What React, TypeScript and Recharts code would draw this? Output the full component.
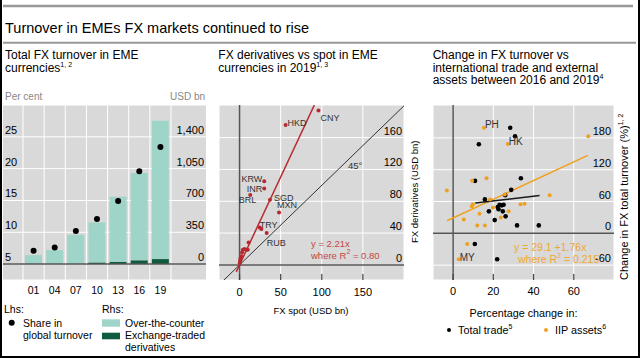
import React from 'react'
import {
  ComposedChart, Bar, Line, XAxis, YAxis, CartesianGrid, ReferenceLine,
  ScatterChart, Scatter,
} from 'recharts'

document.body.style.margin = '0'

const FONT = '"Liberation Sans", Arial, sans-serif'
const GREY_BG = '#d9d9d9'
const AXIS = '#555'

// panel 1: total FX turnover
const years = ['01', '04', '07', '10', '13', '16', '19']
const otc = [99, 154, 322, 441, 716, 959, 1522]
const etd = [0, 0, 0, 18, 25, 42, 55]
const share = [7.1, 7.6, 10.2, 12.1, 14.9, 19.6, 23.4]
const lhsTicks = [5, 10, 15, 20, 25]
const rhsTicks = [0, 350, 700, 1050, 1400]

// panel 2: derivatives vs spot
const ccyLabels = ['CNY', 'HKD', 'KRW', 'INR', 'BRL', 'SGD', 'MXN', 'TRY', '', 'RUB', '', '', '', '', '', '', '', '', '', '']
const ccySpot = [96, 56, 30, 30, 13, 37, 48, 24.5, 26.5, 33, 11, 6, 8, 10, 4, 3, 2, 1, 0.5, 0.3]
const ccyDeriv = [194, 176, 105, 96, 88, 82, 66, 47, 45, 40, 28, 20, 19, 19, 19, 15.5, 11, 8, 5, 2]
const spotTicks = [0, 50, 100, 150]
const derivTicks = [0, 40, 80, 120, 160]
const diagLine = [{ x: -25, y: -25 }, { x: 201, y: 201 }]
const redFit = [{ x: -4, y: -8.8 }, { x: 91, y: 201 }]

// panel 3: change in turnover vs trade / IIP assets
const tradeX = [28.4, 30.8, 12.8, 10.9, 33.7, 28.9, 25.9, 15.8, 17.8, 20.7, 22.2, 23.1, 24.2, 25.1, 22.6, 24.7, 26.1, 31.8, 10.8, 21.9, 42.6]
const tradeY = [199, 183, 168, 99, 104, 82, 72, 64, 41.5, 25, 49.6, 54, 52.8, 54, 45.3, 41.5, 32, 15, -20, -49, 15]
const iipLabels = ['PH', 'HK', '', '', '', '', '', '', '', '', '', '', '', '', '', '', '', '', '', 'MY', '', '']
const iipX = [15.3, 27.2, -3.1, 9.5, 16.6, 25.7, 18.4, 9.8, 9.3, 19.8, 13.1, 27.6, 23.7, 5.3, 12, 15.8, 33.5, 35.5, 7, 2.8, 67.2, 48]
const iipY = [199, 168.5, 81, 99, 104, 73, 64, 55, 51, 48.5, 37, 41.5, 30, 26, 15, 15, 55, 56, -20, -49, 183, 72]
const tradeTicks = [0, 20, 40, 60]
const turnoverTicks = [-60, 0, 60, 120, 180]
const orangeFit = [{ x: -3, y: 23.8 }, { x: 67, y: 147 }]
const blackFit = [{ x: 11, y: 57 }, { x: 43, y: 71.5 }]

const p1Data = years.map((year, i) => ({ year, otc: otc[i], etd: etd[i], share: share[i] }))
const ccyData = ccySpot.map((x, i) => ({ x, y: ccyDeriv[i], label: ccyLabels[i] }))
const tradeData = tradeX.map((x, i) => ({ x, y: tradeY[i] }))
const iipData = iipX.map((x, i) => ({ x, y: iipY[i], label: iipLabels[i] }))

// label placement next to a point: dx, dy, anchor
const labelPos: Record<string, [number, number, string]> = {
  CNY: [2, 10.5, 'start'], HKD: [2, 1.5, 'start'], KRW: [-2, 0.5, 'end'], INR: [-2, 3.5, 'end'],
  BRL: [6, 8.5, 'end'], SGD: [4, 1, 'start'], MXN: [-2, -4, 'start'], TRY: [0, 0, 'start'],
  RUB: [0, 12.5, 'start'], PH: [1, 0.5, 'start'], HK: [1, 1, 'start'], MY: [1, 1.5, 'start'],
}

const sideTick = (anchor: string, size = 11) => (p: any) => (
  <text x={p.x} y={p.y - 3} textAnchor={anchor} fontSize={size} fontFamily={FONT} fill="#000">
    {p.tickFormatter ? p.tickFormatter(p.payload.value) : p.payload.value}
  </text>
)

const bottomTick = (marks: boolean, dy: number, size = 11) => (p: any) => (
  <g>
    {marks && <line x1={p.x} x2={p.x} y1={p.y - 6} y2={p.y} stroke="#444" strokeWidth={1.2} />}
    <text x={p.x} y={p.y + dy} textAnchor="middle" fontSize={size} fontFamily={FONT} fill="#000">
      {p.payload.value}
    </text>
  </g>
)

const dotShape = (fill: string, r: number, size: number) => (p: any) => {
  const lab = p.payload && p.payload.label
  const pos = lab ? labelPos[lab] : null
  return (
    <g>
      <circle cx={p.cx} cy={p.cy} r={r} fill={fill} />
      {pos && (
        <text x={p.cx + pos[0]} y={p.cy + pos[1]} textAnchor={pos[2]} fontSize={size} fontFamily={FONT} fill="#333">
          {lab}
        </text>
      )}
    </g>
  )
}

const fmtThousands = (v: number) => v.toLocaleString('en-US')

function TurnoverPanel() {
  return (
    <div style={{ position: 'absolute', left: 3, top: 105 }}>
      <ComposedChart width={203} height={200} data={p1Data} margin={{ top: 0, right: 0, bottom: 0, left: 0 }} barSize={17}>
        <CartesianGrid yAxisId="rhs" vertical={false} stroke="#fff" fill={GREY_BG} fillOpacity={1} />
        <XAxis dataKey="year" padding={{ left: 20, right: 35 }} axisLine={false} tickLine={false}
          tickSize={0} tickMargin={0} height={25} interval={0} tick={bottomTick(false, 13.5, 10.5)} />
        <YAxis yAxisId="lhs" domain={[2.5, 30]} ticks={lhsTicks} mirror width={1} axisLine={false}
          tickLine={false} tickSize={0} tickMargin={2} tick={sideTick('start')} />
        <YAxis yAxisId="rhs" orientation="right" domain={[-175, 1750]} ticks={rhsTicks} mirror width={1}
          axisLine={false} tickLine={false} tickSize={0} tickMargin={2}
          tickFormatter={fmtThousands} tick={sideTick('end')} />
        {years.map((y) => (
          <ReferenceLine key={y} x={y} yAxisId="rhs" position="start" stroke="#fff" />
        ))}
        <ReferenceLine x={years[years.length - 1]} yAxisId="rhs" position="end" stroke="#fff" />
        <Bar dataKey="etd" stackId="s" yAxisId="rhs" fill="#0f5b3d" isAnimationActive={false} />
        <Bar dataKey="otc" stackId="s" yAxisId="rhs" fill="#9fd5c9" isAnimationActive={false} />
        <ReferenceLine y={0} yAxisId="rhs" stroke={AXIS} strokeWidth={1.5} />
        <Line dataKey="share" yAxisId="lhs" stroke="none" isAnimationActive={false}
          dot={{ r: 3, fill: '#000', stroke: 'none' }} />
      </ComposedChart>
    </div>
  )
}

function SpotPanel() {
  return (
    <div style={{ position: 'absolute', left: 219, top: 105 }}>
      <ScatterChart width={185} height={205} margin={{ top: 0, right: 0, bottom: 0, left: 0 }}>
        <CartesianGrid stroke="#fff" fill={GREY_BG} fillOpacity={1} />
        <XAxis type="number" dataKey="x" domain={[-25, 200]} ticks={spotTicks} allowDataOverflow
          axisLine={false} tickLine={false} tickSize={0} tickMargin={0} height={30} tick={bottomTick(true, 15.5)} />
        <YAxis type="number" dataKey="y" orientation="right" domain={[-19, 201]} ticks={derivTicks}
          allowDataOverflow mirror width={1} axisLine={false} tickLine={false} tickSize={0} tickMargin={2}
          tick={sideTick('end')} />
        <ReferenceLine x={0} stroke={AXIS} strokeWidth={1.5} />
        <ReferenceLine y={0} stroke={AXIS} strokeWidth={1.5} />
        <ReferenceLine segment={diagLine} stroke="#333" strokeWidth={1} ifOverflow="hidden" />
        <ReferenceLine segment={redFit} stroke="#b8282e" strokeWidth={1.5} ifOverflow="hidden" />
        <Scatter data={ccyData} shape={dotShape('#b8282e', 2, 9)} isAnimationActive={false} />
      </ScatterChart>
    </div>
  )
}

function TradePanel() {
  return (
    <div style={{ position: 'absolute', left: 433, top: 105 }}>
      <ScatterChart width={181} height={205} margin={{ top: 0, right: 0, bottom: 0, left: 0 }}>
        <CartesianGrid stroke="#fff" fill={GREY_BG} fillOpacity={1} />
        <XAxis type="number" dataKey="x" domain={[-10, 80]} ticks={tradeTicks} allowDataOverflow
          axisLine={false} tickLine={false} tickSize={0} tickMargin={0} height={30} tick={bottomTick(true, 15)} />
        <YAxis type="number" dataKey="y" orientation="right" domain={[-88, 242]} ticks={turnoverTicks}
          allowDataOverflow mirror width={1} axisLine={false} tickLine={false} tickSize={0} tickMargin={3}
          tick={sideTick('end')} />
        <ReferenceLine x={0} stroke={AXIS} strokeWidth={1.5} />
        <ReferenceLine y={0} stroke={AXIS} strokeWidth={1.5} />
        <ReferenceLine segment={orangeFit} stroke="#f0a020" strokeWidth={1.5} ifOverflow="hidden" />
        <ReferenceLine segment={blackFit} stroke="#1a1a1a" strokeWidth={1.5} ifOverflow="hidden" />
        <Scatter data={tradeData} shape={dotShape('#000', 2.3, 10)} isAnimationActive={false} />
        <Scatter data={iipData} shape={dotShape('#f0a020', 2, 10)} isAnimationActive={false} />
      </ScatterChart>
    </div>
  )
}

const T = (props: any) => <text fontFamily={FONT} fill="#000" {...props} />
const Sup = ({ children }: any) => <tspan fontSize={7} dy={-5}>{children}</tspan>

function Overlay() {
  return (
    <svg width={640} height={358} style={{ position: 'absolute', left: 0, top: 0, pointerEvents: 'none' }}>
      <line x1={3} x2={633} y1={6} y2={6} stroke="#999" strokeWidth={2.5} />
      <T x={5} y={32.5} fontSize={14.5}>Turnover in EMEs FX markets continued to rise</T>
      <line x1={3} x2={636} y1={42.7} y2={42.7} stroke="#999" strokeWidth={2} />

      {/* panel 1 texts */}
      <T x={5} y={59.3} fontSize={12}>Total FX turnover in EME</T>
      <T x={5} y={72.3} fontSize={12}>currencies<Sup>1, 2</Sup></T>
      <T x={5} y={100} fontSize={10} fill="#888">Per cent</T>
      <T x={205} y={100} fontSize={10} fill="#888" textAnchor="end">USD bn</T>
      <T x={4} y={312.5} fontSize={10.5}>Lhs:</T>
      <circle cx={11.7} cy={322.7} r={3} fill="#000" />
      <T x={23} y={326.7} fontSize={10.5}>Share in</T>
      <T x={23} y={339} fontSize={10.5}>global turnover</T>
      <T x={102} y={312.5} fontSize={10.5}>Rhs:</T>
      <rect x={102} y={319.3} width={18} height={7.4} fill="#9fd5c9" />
      <T x={125} y={326.7} fontSize={10.5}>Over-the-counter</T>
      <rect x={102} y={332.7} width={18} height={6.6} fill="#0f5b3d" />
      <T x={125} y={339.3} fontSize={10.5}>Exchange-traded</T>
      <T x={125} y={350.5} fontSize={10.5}>derivatives</T>

      {/* panel 2 texts */}
      <T x={218.3} y={59.3} fontSize={12}>FX derivatives vs spot in EME</T>
      <T x={218.3} y={72} fontSize={12}>currencies in 2019<Sup>1, 3</Sup></T>
      <T x={348} y={169} fontSize={9.5} fill="#333">45°</T>
      <T x={311} y={246.5} fontSize={9.5} fill="#c4473f">y = 2.21x</T>
      <T x={311} y={258.5} fontSize={9.5} fill="#c4473f">where R<Sup>2</Sup><tspan dy={5}> = 0.80</tspan></T>
      <T x={311} y={314} fontSize={9.5} textAnchor="middle">FX spot (USD bn)</T>
      <T transform="translate(418,243) rotate(-90)" fontSize={9.5}>FX derivatives (USD bn)</T>

      {/* panel 3 texts */}
      <T x={432.7} y={59.3} fontSize={12}>Change in FX turnover vs</T>
      <T x={432.7} y={71.5} fontSize={12}>international trade and external</T>
      <T x={432.7} y={83.5} fontSize={12}>assets between 2016 and 2019<Sup>4</Sup></T>
      <T x={514} y={250.5} fontSize={10.5} fill="#f0a830">y = 29.1 +1.76x</T>
      <T x={518} y={263} fontSize={10.5} fill="#f0a830">where R<Sup>2</Sup><tspan dy={5}> = 0.215</tspan></T>
      <T transform="translate(627.5,280) rotate(-90)" fontSize={11}>Change in FX total turnover (%)<Sup>1, 2</Sup></T>
      <T x={523.5} y={316.7} fontSize={10.8} textAnchor="middle">Percentage change in:</T>
      <circle cx={449} cy={330} r={2} fill="#000" />
      <T x={458} y={333.5} fontSize={10.8}>Total trade<Sup>5</Sup></T>
      <circle cx={546} cy={330} r={2} fill="#f0a020" />
      <T x={555} y={333.5} fontSize={10.8}>IIP assets<Sup>6</Sup></T>
    </svg>
  )
}

export default function App() {
  return (
    <div style={{
      position: 'relative', width: 640, height: 358, boxSizing: 'border-box', background: '#fff',
      borderLeft: '2px solid #000', borderRight: '2px solid #000', borderBottom: '2px solid #000',
      overflow: 'hidden',
    }}>
      <div style={{ position: 'absolute', left: -2, top: 0, width: 640, height: 358 }}>
        <TurnoverPanel />
        <SpotPanel />
        <TradePanel />
        <Overlay />
      </div>
    </div>
  )
}
